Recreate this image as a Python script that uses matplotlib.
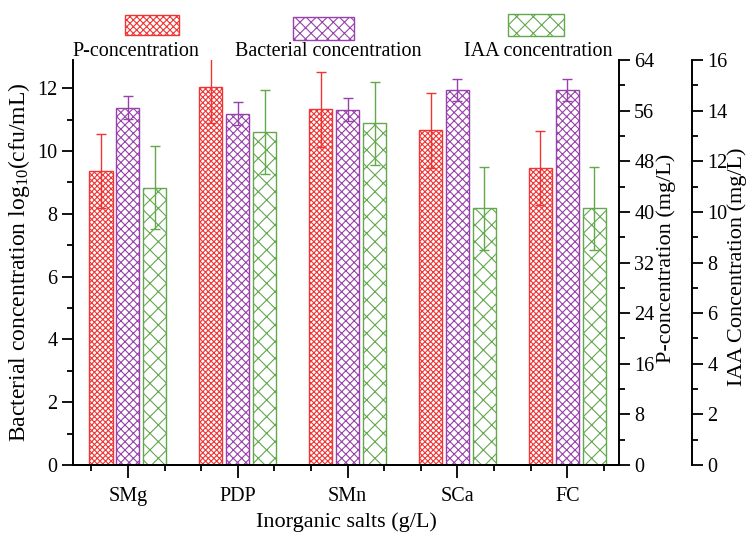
import numpy as np
import matplotlib
matplotlib.use('Agg')
import matplotlib.pyplot as plt
from matplotlib.patches import Rectangle
from matplotlib.ticker import MultipleLocator

plt.rcParams['font.family'] = 'Liberation Serif'
plt.rcParams['mathtext.fontset'] = 'custom'
plt.rcParams['mathtext.rm'] = 'Liberation Serif'
plt.rcParams['mathtext.it'] = 'Liberation Serif:italic'
plt.rcParams['hatch.linewidth'] = 0.8

salts = ['SMg', 'PDP', 'SMn', 'SCa', 'FC']

# P-concentration (mg/L)
p_conc = [46.4, 59.7, 56.2, 52.9, 46.9]
p_err = [5.85, 5.7, 5.9, 5.9, 5.85]
# bacterial concentration log10(cfu/mL)
bact = [11.38, 11.19, 11.32, 11.93, 11.96]
bact_err = [0.36, 0.36, 0.36, 0.35, 0.35]
# IAA concentration (mg/L)
iaa = [10.96, 13.16, 13.5, 10.14, 10.14]
iaa_err = [1.63, 1.65, 1.63, 1.64, 1.64]

red = '#f03434'
purple = '#9642aa'
green = '#62a84c'

fig = plt.figure(figsize=(7.48, 5.36), dpi=100)
ax = fig.add_axes([0.0976, 0.1325, 0.7299, 0.7555])
axp = ax.twinx()
axi = ax.twinx()
axi.spines['right'].set_position(('axes', 1.134))

x = np.arange(len(salts))
w = 0.21
off = 0.245

ekw = dict(elinewidth=1.0, capthick=1.0)
axp.bar(x - off, p_conc, w, yerr=p_err, color='white', edgecolor=red,
        hatch='xxxxxx', linewidth=1.0, capsize=3.5, ecolor=red, error_kw=ekw)
ax.bar(x, bact, w, yerr=bact_err, color='white', edgecolor=purple,
       hatch='xxxx', linewidth=1.0, capsize=3.5, ecolor=purple, error_kw=ekw)
axi.bar(x + off, iaa, w, yerr=iaa_err, color='white', edgecolor=green,
        hatch='xx', linewidth=1.0, capsize=3.5, ecolor=green, error_kw=ekw)

ax.set_xlim(-0.5, 4.47)
ax.set_ylim(0, 12.9)
axp.set_ylim(0, 64)
axi.set_ylim(0, 16)

ax.set_xticks(x)
ax.set_xticklabels(salts)
ax.xaxis.set_minor_locator(MultipleLocator(1 / 3))
ax.yaxis.set_major_locator(MultipleLocator(2))
ax.yaxis.set_minor_locator(MultipleLocator(1))
axp.yaxis.set_major_locator(MultipleLocator(8))
axp.yaxis.set_minor_locator(MultipleLocator(4))
axi.yaxis.set_major_locator(MultipleLocator(2))
axi.yaxis.set_minor_locator(MultipleLocator(1))

for a in (ax, axp, axi):
    a.spines['top'].set_visible(False)
    a.tick_params(which='major', length=8, width=1.3, labelsize=14.5, pad=3)
    a.tick_params(which='minor', length=4.5, width=1.3)
    for s in a.spines.values():
        s.set_linewidth(1.4)
ax.spines['right'].set_visible(False)
axi.spines['left'].set_visible(False)
axp.spines['left'].set_visible(False)
ax.tick_params(axis='x', which='major', length=9, pad=7)

ax.set_xlabel('Inorganic salts (g/L)', fontsize=16)
ax.xaxis.set_label_coords(0.5, -0.117)
ax.set_ylabel(r'Bacterial concentration log$_{\mathrm{10}}$(cfu/mL)', fontsize=17)
ax.yaxis.set_label_coords(-0.075, 0.5)
axp.set_ylabel('P-concentration (mg/L)', fontsize=16)
axp.yaxis.set_label_coords(1.068, 0.51)
axi.set_ylabel('IAA Concentration (mg/L)', fontsize=16)
axi.yaxis.set_label_coords(1.198, 0.49)

# legend drawn above the axes: patch over label
leg = [('P-concentration', red, 'xxxxx', 125, 179, 15, 35, 136),
       ('Bacterial concentration', purple, 'xxx', 293, 354, 17, 40, 328),
       ('IAA concentration', green, 'xx', 508, 564, 14, 36, 538)]
W, H = 748.0, 536.0
for label, c, h, x0, x1, y0, y1, tx in leg:
    fig.patches.append(Rectangle((x0 / W, 1 - y1 / H), (x1 - x0) / W, (y1 - y0) / H,
                                 transform=fig.transFigure, facecolor='white',
                                 edgecolor=c, hatch=h, linewidth=1.0))
    fig.text(tx / W, 1 - 52 / H, label, fontsize=14.5, ha='center', va='center')

fig.savefig('out.png', dpi=100)
